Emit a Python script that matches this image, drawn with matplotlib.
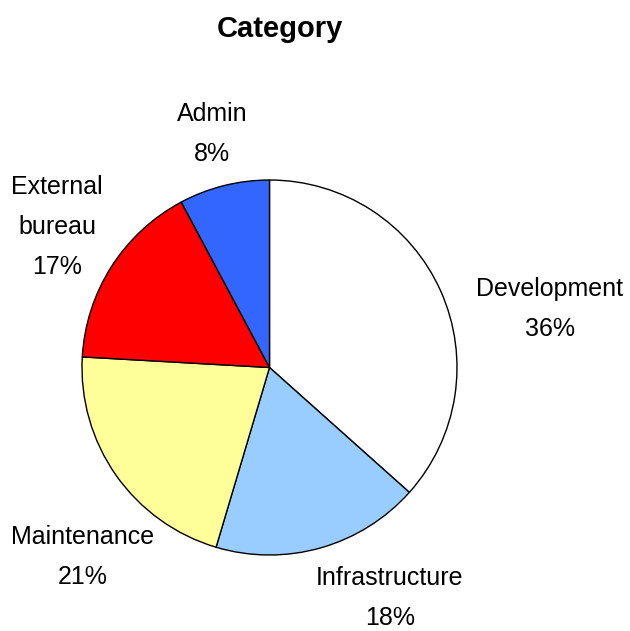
import matplotlib
matplotlib.use("Agg")
import matplotlib.pyplot as plt
import numpy as np

plt.rcParams['font.family'] = ['Liberation Sans Narrow', 'Liberation Sans', 'DejaVu Sans']

categories = ["Development", "Infrastructure", "Maintenance", "External\nbureau", "Admin"]
shares = [36.6, 18.0, 21.3, 16.3, 7.8]
pct_labels = ["36%", "18%", "21%", "17%", "8%"]
colors = ["#FFFFFF", "#99CCFF", "#FFFF99", "#FF0000", "#3366FF"]

# label anchor positions in pixel layout (x, y from top)
label_pos = [(550, 309), (390, 598), (83, 557), (57, 227), (212, 134)]

W, H = 630, 631
fig = plt.figure(figsize=(W / 100, H / 100), dpi=100)
ax = fig.add_axes([0, 0, 1, 1])
ax.axis('off')

cx, cy, r = 269.5, 367.5, 187.5
ax.pie(shares, colors=colors, startangle=90, counterclock=False,
       center=(cx, H - cy), radius=r,
       wedgeprops=dict(edgecolor='black', linewidth=1.0))
ax.set_xlim(0, W)
ax.set_ylim(0, H)
ax.set_aspect('equal')

for cat, p, (lx, ly) in zip(categories, pct_labels, label_pos):
    ax.text(lx, H - ly, f"{cat}\n{p}", ha='center', va='center',
            fontsize=18, linespacing=1.85)

fig.text(280 / W, 1 - 29 / H, "Category", ha='center', va='center',
         fontsize=21, fontweight='bold')

fig.savefig("out.png", dpi=100)
